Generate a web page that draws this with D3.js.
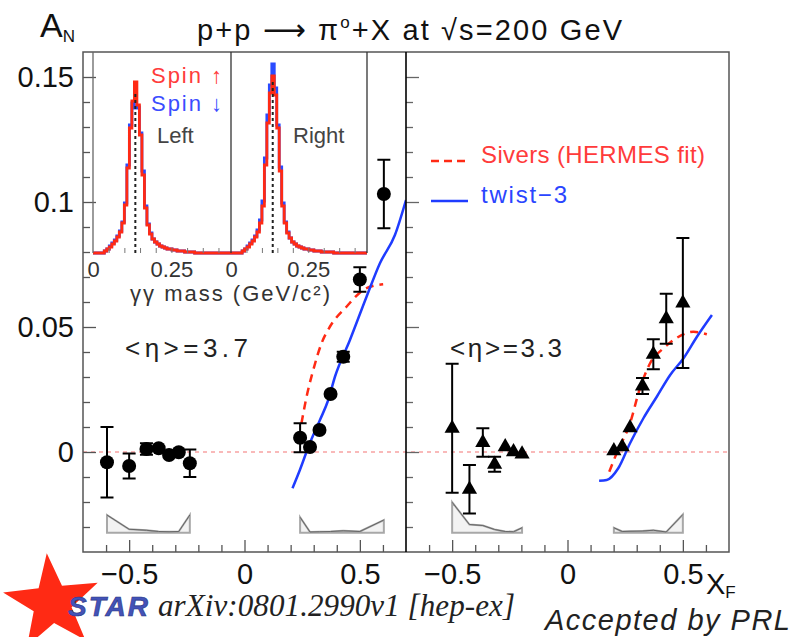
<!DOCTYPE html>
<html><head><meta charset="utf-8">
<script src="https://cdn.jsdelivr.net/npm/d3@7/dist/d3.min.js"></script>
<style>
body{margin:0;background:#fff}
svg{display:block}
</style>
</head><body>
<svg id="c" width="794" height="637" font-family="Liberation Sans, Arial, sans-serif"></svg>
<script>
// ---------------- DATA ----------------
// Left panel  <eta> = 3.7 (circles)
const leftXF  = [-0.596,-0.500,-0.425,-0.372,-0.327,-0.285,-0.237, 0.241,0.284,0.325,0.373,0.428,0.500,0.604];
const leftAN  = [-0.0041,-0.0056,0.0012,0.0015,-0.0012,-0.0001,-0.0045, 0.0057,0.0020,0.0088,0.0232,0.0381,0.0690,0.1032];
const leftErr = [0.0141,0.0050,0.0023,0,0,0,0.0055, 0.0058,0,0,0,0.0020,0.0049,0.0137];
const leftSys = [0.0071,0.0014,0.0010,0.0005,0.0004,0.0005,0.0071, 0.0062,0.0003,0.0004,0.0005,0.0008,0.0005,0.0051];
// Right panel <eta> = 3.3 (triangles)
const rightXF  = [-0.500,-0.425,-0.367,-0.316,-0.270,-0.234,-0.197, 0.201,0.237,0.271,0.325,0.372,0.428,0.500];
const rightAN  = [0.0095,-0.0149,0.0038,-0.0049,0.0021,0.0001,-0.0008, 0.0005,0.0021,0.0097,0.0264,0.0391,0.0533,0.0596];
const rightErr = [0.0258,0.0097,0.0057,0.0030,0,0,0, 0,0,0,0.0032,0.0060,0.0100,0.0260];
const rightSys = [0.0122,0.0033,0.0029,0.0013,0.0005,0.0004,0.0020, 0.0020,0.0005,0.0006,0.0007,0.0010,0.0003,0.0073];
const sysBase = -0.0323;

// Theory curves [xF, AN]
const siversLeft  = [[0.247,0.0115],[0.269,0.0221],[0.298,0.0328],[0.334,0.0435],[0.370,0.0501],[0.442,0.0581],[0.515,0.0648],[0.560,0.0665],[0.601,0.0671]];
const twist3Left  = [[0.208,-0.0145],[0.240,-0.0072],[0.283,0.0035],[0.327,0.0128],[0.363,0.0208],[0.392,0.0301],[0.457,0.0448],[0.529,0.0621],[0.587,0.0755],[0.652,0.0868],[0.700,0.1008]];
const siversRight = [[0.181,-0.0079],[0.213,-0.0005],[0.271,0.0115],[0.314,0.0255],[0.358,0.0355],[0.416,0.0415],[0.474,0.0457],[0.546,0.0481],[0.604,0.0471]];
const twist3Right = [[0.137,-0.0115],[0.170,-0.0112],[0.220,-0.0065],[0.271,0.0035],[0.329,0.0135],[0.387,0.0221],[0.445,0.0308],[0.503,0.0375],[0.561,0.0461],[0.626,0.0548]];

// Inset: gamma-gamma mass histograms (bins of 0.008 GeV starting at 0.004 GeV)
const histStart = 0.004, histBin = 0.008;
const leftUp    = [0,0,0,0,2,4,6,9,12,16,21,30,48,85,125,152,171,148,118,78,45,28,19,14,11,9,7,6,5,4,4,3,3,2,2,2,1,1,1,1,0,0,0,0,0,0,0,0,0,0,0,0,0,0];
const leftDown  = [0,0,0,0,2,4,7,10,13,17,22,31,50,88,128,150,145,146,120,82,47,29,20,14,11,9,7,6,5,4,4,3,3,2,2,2,1,1,1,1,0,0,0,0,0,0,0,0,0,0,0,0,0,0];
const rightUp   = [0,0,0,0,2,4,6,9,12,16,21,30,47,88,130,160,177,158,125,82,47,30,20,15,11,9,7,6,5,4,4,3,3,2,2,2,1,1,1,1,1,0,0,0,0,0,0,0,0,0,0,0,0,0];
const rightDown = [0,0,0,0,2,4,7,10,13,17,23,33,52,95,138,168,189,165,128,86,50,31,21,15,11,9,7,6,5,4,4,3,3,2,2,2,1,1,1,1,1,0,0,0,0,0,0,0,0,0,0,0,0,0];
const pi0Mass = 0.135;

// Ticks
const yMajor = [0, 0.05, 0.1, 0.15];
const xMajor = [-0.5, 0, 0.5];
const insetLabels = [0, 0.25];

// ---------------- LAYOUT ----------------
const FONT = 'Liberation Sans, Arial, sans-serif';
const svg = d3.select('#c');
const y = d3.scaleLinear().domain([-0.04,0.16]).range([552,52]);
const xL = d3.scaleLinear().domain([-0.7,0.7]).range([83,406]);
const xR = d3.scaleLinear().domain([-0.7,0.7]).range([406,729]);
const yMinor = d3.range(-0.03,0.16,0.01).map(v=>+v.toFixed(2)).filter(v=>!yMajor.includes(v));
const xMinor = d3.range(-0.6,0.65,0.1).map(v=>+v.toFixed(1)).filter(v=>!xMajor.includes(v));

const panels = [
  {x:xL, xs:leftXF, a:leftAN, e:leftErr, s:leftSys, sv:siversLeft, tw:twist3Left, marker:'circle'},
  {x:xR, xs:rightXF, a:rightAN, e:rightErr, s:rightSys, sv:siversRight, tw:twist3Right, marker:'triangle'}
];

const defs = svg.append('defs');
panels.forEach((p,i)=>{
  defs.append('clipPath').attr('id','clip'+i).append('rect')
    .attr('x',p.x.range()[0]).attr('y',52).attr('width',p.x.range()[1]-p.x.range()[0]).attr('height',500);
});

// zero line
svg.append('line').attr('x1',83).attr('x2',729).attr('y1',y(0)).attr('y2',y(0))
  .attr('stroke','#f7a3a3').attr('stroke-width',1.5).attr('stroke-dasharray','4,4');

panels.forEach((p,i)=>{
  const g = svg.append('g').attr('clip-path',`url(#clip${i})`);
  [[0,7],[7,14]].forEach(([a,b])=>{
    const idx = d3.range(a,b);
    const pts = [[p.xs[a],sysBase]].concat(idx.map(k=>[p.xs[k],sysBase+p.s[k]])).concat([[p.xs[b-1],sysBase]]);
    g.append('path').attr('d',d3.line().x(d=>p.x(d[0])).y(d=>y(d[1]))(pts)+'Z')
      .attr('fill','#f3f3f3').attr('stroke','#a8a8a8').attr('stroke-width',2);
    g.append('path').attr('d',d3.line().x(d=>p.x(d[0])).y(d=>y(d[1]))(idx.map(k=>[p.xs[k],sysBase+p.s[k]])))
      .attr('fill','none').attr('stroke','#666').attr('stroke-width',1);
  });
  const line = d3.line().x(d=>p.x(d[0])).y(d=>y(d[1])).curve(d3.curveMonotoneX);
  g.append('path').attr('d',line(p.sv)).attr('fill','none').attr('stroke','#ff2a14')
    .attr('stroke-width',2.5).attr('stroke-dasharray','8,6');
  g.append('path').attr('d',line(p.tw)).attr('fill','none').attr('stroke','#1f3cff')
    .attr('stroke-width',2.5);
  p.xs.forEach((xv,k)=>{
    if(p.e[k]>0){
      const cx=p.x(xv), y1=y(p.a[k]+p.e[k]), y2=y(p.a[k]-p.e[k]);
      g.append('line').attr('x1',cx).attr('x2',cx).attr('y1',y1).attr('y2',y2).attr('stroke','#000').attr('stroke-width',2);
      [y1,y2].forEach(yy=>g.append('line').attr('x1',cx-6.5).attr('x2',cx+6.5).attr('y1',yy).attr('y2',yy).attr('stroke','#000').attr('stroke-width',2));
    }
  });
  p.xs.forEach((xv,k)=>{
    if(p.marker==='circle'){
      g.append('circle').attr('cx',p.x(xv)).attr('cy',y(p.a[k])).attr('r',7).attr('fill','#000');
    } else {
      g.append('path').attr('d',d3.symbol(d3.symbolTriangle,100)())
        .attr('transform',`translate(${p.x(xv)},${y(p.a[k])})`).attr('fill','#000');
    }
  });
});

// ---------------- AXES ----------------
function styleAxis(sel, color){
  sel.select('.domain').remove();
  sel.selectAll('.tick line').attr('stroke',color||'#555').attr('stroke-width',1.3);
  sel.selectAll('text').attr('font-size',29).attr('fill','#111').attr('font-family',FONT);
}
svg.append('g').attr('transform','translate(83,0)')
  .call(d3.axisLeft(y).tickValues(yMajor).tickSizeInner(-13).tickSizeOuter(0).tickPadding(9).tickFormat(d=>String(d)))
  .call(s=>styleAxis(s));
svg.append('g').attr('transform','translate(83,0)')
  .call(d3.axisLeft(y).tickValues(yMinor).tickSizeInner(-7).tickSizeOuter(0).tickFormat(''))
  .call(s=>styleAxis(s));
svg.append('g').attr('transform','translate(406,0)')
  .call(d3.axisLeft(y).tickValues(yMajor).tickSizeInner(-13).tickSizeOuter(0).tickFormat(''))
  .call(s=>styleAxis(s,'#666'));
svg.append('g').attr('transform','translate(406,0)')
  .call(d3.axisLeft(y).tickValues(yMinor).tickSizeInner(-7).tickSizeOuter(0).tickFormat(''))
  .call(s=>styleAxis(s,'#666'));
[xL,xR].forEach(xs=>{
  svg.append('g').attr('transform','translate(0,552)')
    .call(d3.axisBottom(xs).tickValues(xMajor).tickSizeInner(-12).tickSizeOuter(0).tickPadding(11)
      .tickFormat(d=> d===0 ? '0' : d3.format('.1f')(d)))
    .call(s=>styleAxis(s));
  svg.append('g').attr('transform','translate(0,552)')
    .call(d3.axisBottom(xs).tickValues(xMinor).tickSizeInner(-7).tickSizeOuter(0).tickFormat(''))
    .call(s=>styleAxis(s));
});

// frame
svg.append('rect').attr('x',83).attr('y',52).attr('width',646).attr('height',500)
  .attr('fill','none').attr('stroke','#555').attr('stroke-width',1.5);
svg.append('line').attr('x1',406).attr('x2',406).attr('y1',52).attr('y2',552).attr('stroke','#000').attr('stroke-width',1.6);

// ---------------- INSET ----------------
const iy = d3.scaleLinear().domain([0,200]).range([253,53]);
const insets = [
  {x:d3.scaleLinear().domain([0,0.44]).range([93,231]), up:leftUp, down:leftDown, label:'Left', lx:157, top:160},
  {x:d3.scaleLinear().domain([0,0.44]).range([231,367]), up:rightUp, down:rightDown, label:'Right', lx:293, top:174}
];
insets.forEach((ins,i)=>{
  defs.append('clipPath').attr('id','iclip'+i).append('rect')
    .attr('x',ins.x.range()[0]).attr('y',52).attr('width',ins.x.range()[1]-ins.x.range()[0]).attr('height',203);
  const g = svg.append('g');
  const gc = g.append('g').attr('clip-path',`url(#iclip${i})`);
  const step = d3.line().x(d=>ins.x(d[0])).y(d=>iy(d[1])).curve(d3.curveStepAfter);
  const mk = arr => [[0,0]].concat(arr.map((c,k)=>[histStart+k*histBin,c])).concat([[histStart+arr.length*histBin,0],[0.44,0]]);
  g.append('g').attr('transform','translate(0,253)')
    .call(d3.axisBottom(ins.x).tickValues(d3.range(0.05,0.44,0.05)).tickSizeInner(-5).tickSizeOuter(0).tickFormat(''))
    .call(s=>{s.select('.domain').remove(); s.selectAll('line').attr('stroke','#777');});
  gc.append('path').attr('d',step(mk(ins.down))).attr('fill','none').attr('stroke','#2a4bff').attr('stroke-width',2.8);
  gc.append('path').attr('d',step(mk(ins.up))).attr('fill','none').attr('stroke','#ff2a14').attr('stroke-width',2.8);
  g.append('line').attr('x1',ins.x(pi0Mass)).attr('x2',ins.x(pi0Mass)).attr('y1',iy(0)).attr('y2',iy(ins.top))
    .attr('stroke','#222').attr('stroke-width',2).attr('stroke-dasharray','3,3');
  g.append('g').attr('transform','translate(0,255)')
    .call(d3.axisBottom(ins.x).tickValues(insetLabels).tickSize(0).tickPadding(6).tickFormat(d=>d===0?'0':String(d)))
    .call(s=>{s.select('.domain').remove(); s.selectAll('text').attr('font-size',22).attr('fill','#333').attr('font-family',FONT);});
  g.append('text').attr('x',ins.lx).attr('y',143).attr('font-size',22).attr('fill','#444').text(ins.label);
});
[93,231,367].forEach((xx,i)=>svg.append('line').attr('x1',xx).attr('x2',xx).attr('y1',52).attr('y2',253)
  .attr('stroke',i===0?'#666':'#333').attr('stroke-width',1.3));
svg.append('text').attr('x',151).attr('y',83).attr('font-size',22).attr('fill','#ff3b3b').attr('textLength',71).text('Spin \u2191');
svg.append('text').attr('x',151).attr('y',111).attr('font-size',22).attr('fill','#3b4dff').attr('textLength',71).text('Spin \u2193');
svg.append('text').attr('x',130).attr('y',301).attr('font-size',22).attr('fill','#333').attr('textLength',200)
  .text('\u03b3\u03b3 mass (GeV/c\u00b2)');

// ---------------- LEGEND & LABELS ----------------
svg.append('line').attr('x1',431).attr('x2',468).attr('y1',161).attr('y2',161)
  .attr('stroke','#ff2a14').attr('stroke-width',2.5).attr('stroke-dasharray','8,5');
svg.append('text').attr('x',481).attr('y',163).attr('font-size',24).attr('fill','#ff3b3b').attr('textLength',224).text('Sivers (HERMES fit)');
svg.append('line').attr('x1',431).attr('x2',468).attr('y1',201).attr('y2',201)
  .attr('stroke','#1f3cff').attr('stroke-width',2.5);
svg.append('text').attr('x',481).attr('y',203).attr('font-size',24).attr('fill','#2a45ff').attr('textLength',86).text('twist\u22123');

svg.append('text').attr('x',125).attr('y',357).attr('font-size',26).attr('fill','#222').attr('textLength',123).text('<\u03b7>=3.7');
svg.append('text').attr('x',450).attr('y',357).attr('font-size',26).attr('fill','#222').attr('textLength',112).text('<\u03b7>=3.3');

// title
const t = svg.append('text').attr('x',197).attr('y',40).attr('font-size',29).attr('fill','#111');
t.append('tspan').text('p+p ');
t.append('tspan').attr('font-family','DejaVu Sans, sans-serif').attr('font-size',30).text('\u27f6');
t.append('tspan').text(' \u03c0');
t.append('tspan').attr('font-size',17).attr('dy',-12).text('o');
t.append('tspan').attr('dy',12).text('+X at \u221as=200 GeV');
t.attr('textLength',425);

// A_N
const an = svg.append('text').attr('x',40).attr('y',37).attr('font-size',34).attr('fill','#111');
an.append('tspan').text('A');
an.append('tspan').attr('font-size',17).attr('dy',5).text('N');
// X_F
const xf = svg.append('text').attr('x',706).attr('y',594).attr('font-size',29).attr('fill','#111');
xf.append('tspan').text('X');
xf.append('tspan').attr('font-size',17).attr('dy',4).text('F');

// ---------------- FOOTER ----------------
function fitWidth(sel, target, maxScale){
  const fs = +sel.attr('font-size');
  const w = sel.node().getComputedTextLength();
  if (w > 0) {
    const f = Math.min(fs*(maxScale||1.15), fs*target/w);
    sel.attr('font-size', f);
    const w2 = sel.node().getComputedTextLength();
    if (w2 < target - 1) sel.attr('textLength', target);
  }
  return sel;
}
const starPts = d3.range(10).map(k=>{
  const ang = (-90 - 6 + k*36)*Math.PI/180, r = k%2===0 ? 50 : 20;
  return [52 + r*Math.cos(ang), 603 + r*Math.sin(ang)];
});
svg.append('path').attr('d',d3.line()(starPts)+'Z').attr('fill','#ff2a14');
const star = svg.append('text').attr('x',68).attr('y',616).attr('font-size',28).attr('font-weight','bold')
  .attr('font-style','italic').attr('fill','#4353b8').attr('stroke','#2a3580').attr('stroke-width',0.6)
  .text('STAR');
fitWidth(star, 80, 1.0);
const arx = svg.append('text').attr('x',158).attr('y',616).attr('font-size',27).attr('font-style','italic')
  .attr('font-family','Liberation Serif, DejaVu Serif, serif').attr('fill','#222')
  .text('arXiv:0801.2990v1 [hep-ex]');
fitWidth(arx, 357);
const acc = svg.append('text').attr('x',545).attr('y',630).attr('font-size',29).attr('font-style','italic')
  .attr('fill','#222').text('Accepted by PRL');
fitWidth(acc, 245, 1.0);
</script>
</body></html>
